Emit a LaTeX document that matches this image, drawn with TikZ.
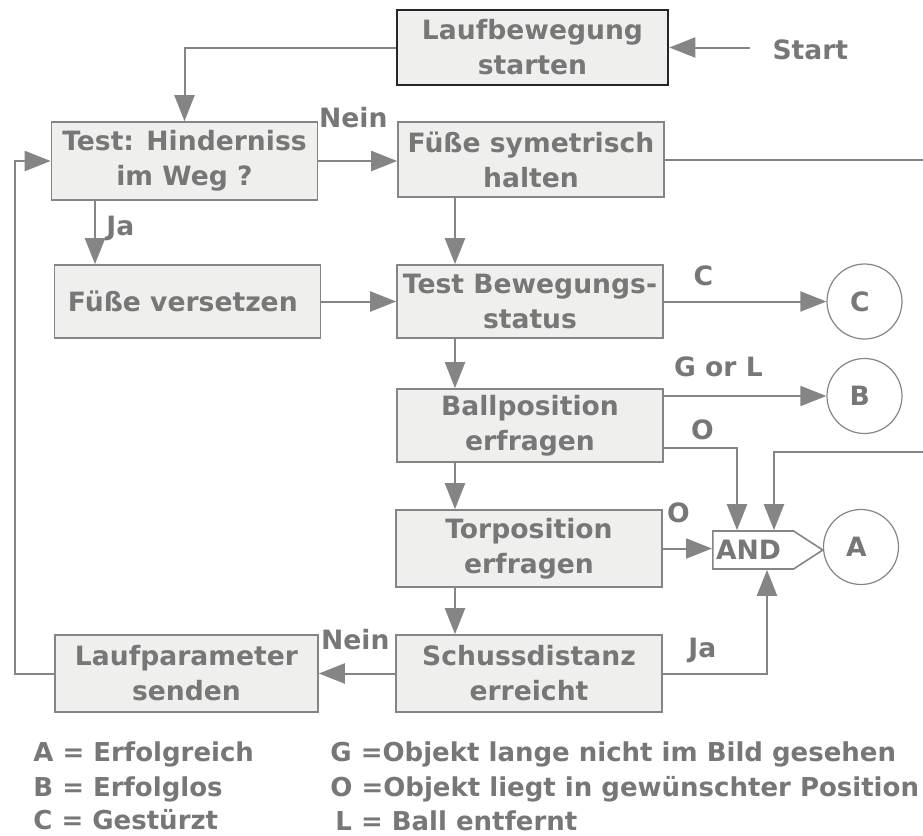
\documentclass[tikz,border=0pt]{standalone}
\usepackage{fontspec}
\setmainfont{DejaVu Sans}
\usetikzlibrary{positioning, shapes.geometric, shapes.symbols, arrows.meta}
\definecolor{txtgray}{HTML}{777777}
\definecolor{linegray}{HTML}{858585}
\definecolor{boxfill}{HTML}{EFF0EE}

\begin{document}
\begin{tikzpicture}[x = 0.5pt, y = -0.5pt,
    every node/.style = { font = \fontsize{13.3}{17.5}\selectfont\bfseries, text = txtgray, align = center },
    box/.style = { draw = linegray, line width = 0.8pt, fill = boxfill, minimum width = 133pt, minimum height = 37.5pt, inner sep = 2pt },
    circ/.style = { draw = linegray, line width = 0.6pt, circle, minimum size = 37.5pt, inner sep = 0pt },
    arr/.style = { draw = linegray, line width = 1pt, -{Triangle[length = 13pt, width = 10pt]} },
    lbl/.style = { inner sep = 1pt },
    leg/.style = { anchor = base west, inner sep = 0pt, font = \fontsize{13}{15}\selectfont\bfseries }]

    \useasboundingbox (0,0) rectangle (923,836);

    % boxes
    \node [box, draw = black!85, line width = 1.3pt, minimum width = 135.5pt] (start) at (532.5,47.5) { Laufbewegung \\ starten };
    \node [box, minimum height = 39pt] (hind) at (184.5,161) { Test: Hinderniss \\ im Weg ? };
    \node [box] (sym) at (531,159.5) { Füße symetrisch \\ halten };
    \node [box, minimum height = 36.5pt] (vers) at (187.5,301.5) { Füße versetzen };
    \node [box, minimum height = 36.5pt] (bew) at (530,301.5) { Test Bewegungs- \\ status };
    \node [box, minimum height = 36.5pt] (ball) at (530,425.5) { Ballposition \\ erfragen };
    \node [box, minimum height = 38.5pt] (tor) at (529,548.5) { Torposition \\ erfragen };
    \node [box, minimum height = 38.5pt] (schuss) at (529,673.5) { Schussdistanz \\ erreicht };
    \node [box, minimum height = 38.5pt, minimum width = 131.5pt] (lauf) at (186.5,673.5) { Laufparameter \\ senden };

    % gate and end states
    \node [draw = linegray, line width = 0.8pt, fill = white, shape = signal, signal to = east, signal pointer angle = 66,
           minimum width = 55pt, minimum height = 19pt, inner sep = 1pt, anchor = west] (gate) at (712,550) { AND };
    \node [circ] (cA) at (861,547) { A };
    \node [circ] (cB) at (864.5,396) { B };
    \node [circ] (cC) at (864.5,301.5) { C };

    % labels
    \node (start lbl) at (815,50) { Start };
    \node [lbl] (nein top) at (358,118) { Nein };
    \node [lbl] (ja top) at (125,228) { Ja };
    \node [lbl] (c lbl) at (708,276) { C };
    \node [lbl] (gl lbl) at (723,367) { G or L };
    \node [lbl] (o ball) at (707,430) { O };
    \node [lbl] (o tor) at (683,513) { O };
    \node [lbl] (nein bot) at (360,640) { Nein };
    \node [lbl] (ja bot) at (707,650) { Ja };

    % helper points
    \coordinate (s0) at (750,47.5);
    \coordinate (jx) at (95,0);
    \coordinate (dx) at (455,0);
    \coordinate (lx) at (15,0);
    \coordinate (rx) at (960,0);
    \coordinate (o1) at (737,448);
    \coordinate (g2) at (774,452);
    \coordinate (j1) at (767,0);

    % connectors
    \draw [arr] (s0) -- (start.east);
    \draw [arr] (start.west) -| (hind.north);
    \draw [arr] (hind.east) -- (hind.east -| sym.west);
    \draw [arr] (hind.south -| jx) -- (vers.north -| jx);
    \draw [arr] (vers.east) -- (bew.west);
    \foreach \a/\b in {sym/bew, bew/ball, ball/tor, tor/schuss}
      \draw [arr] (\a.south -| dx) -- (\b.north -| dx);
    \draw [arr] (bew.east) -- (cC.west);
    \draw [arr] (ball.east |- cB.west) -- (cB.west);
    \draw [arr] (ball.east |- o1) -- (o1) -- (o1 |- gate.north);
    \draw [arr] (sym.east) -- (sym.east -| rx) |- (g2) -- (g2 |- gate.north);
    \draw [arr] (tor.east) -- (tor.east -| gate.west);
    \draw [arr] (schuss.east) -| (j1 |- gate.south);
    \draw [arr] (schuss.west) -- (lauf.east);
    \draw [arr] (lauf.west) -- (lauf.west -| lx) |- (hind.west);

    % legend
    \node [leg] (leg a) at (33,761) { A = Erfolgreich };
    \node [leg] (leg b) at (33,796) { B = Erfolglos };
    \node [leg] (leg c) at (33,829) { C = Gestürzt };
    \node [leg] (leg g) at (330,761) { G =Objekt lange nicht im Bild gesehen };
    \node [leg] (leg o) at (330,796) { O =Objekt liegt in gewünschter Position };
    \node [leg] (leg l) at (335,830) { L = Ball entfernt };
\end{tikzpicture}
\end{document}
